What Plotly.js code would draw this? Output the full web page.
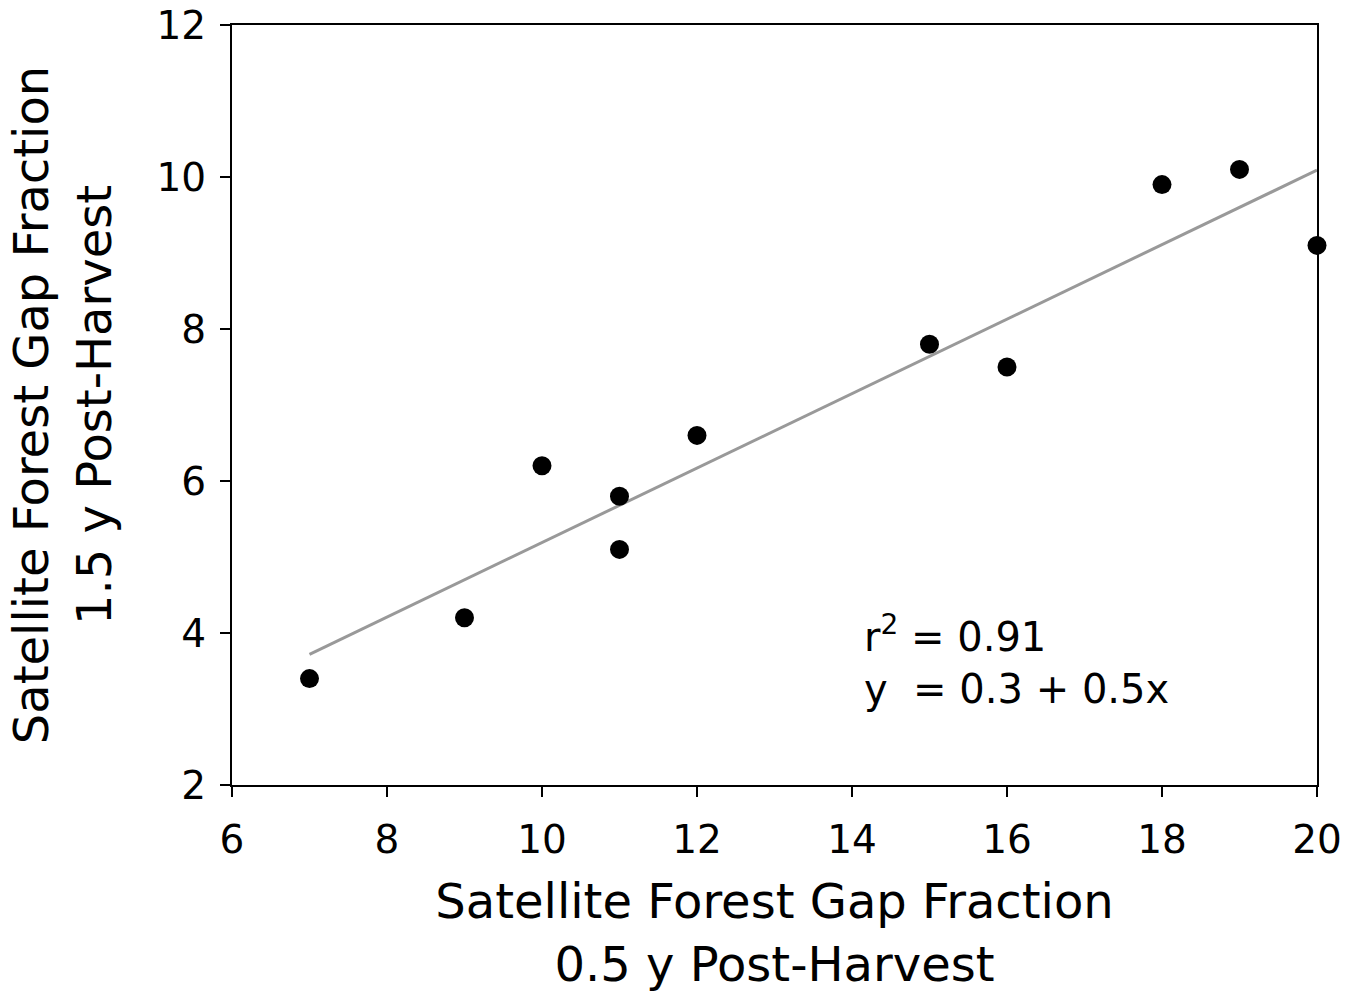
<!DOCTYPE html>
<html>
<head>
<meta charset="utf-8">
<script src="https://cdn.plot.ly/plotly-3.0.1.min.js"></script>
<style>html,body{margin:0;padding:0;background:#fff;}#chart{width:1357px;height:997px;}</style>
</head>
<body>
<div id="chart"></div>
<script>
// Data
const gap05 = [7, 9, 10, 11, 11, 12, 15, 16, 18, 19, 20];
const gap15 = [3.4, 4.2, 6.2, 5.8, 5.1, 6.6, 7.8, 7.5, 9.9, 10.1, 9.1];
const fitX = [7, 20];
const fitY = [3.72, 10.09];
const xTicks = [6, 8, 10, 12, 14, 16, 18, 20];
const yTicks = [2, 4, 6, 8, 10, 12];
const statsText = "r<sup>2</sup> = 0.91<br>y&nbsp; = 0.3 + 0.5x";

const FONT = "DejaVu Sans, Liberation Sans, Arial, sans-serif";

const traces = [
  {
    x: fitX, y: fitY, type: "scatter", mode: "lines",
    line: {color: "#999999", width: 3},
    hoverinfo: "skip", showlegend: false, cliponaxis: false
  },
  {
    x: gap05, y: gap15, type: "scatter", mode: "markers",
    marker: {color: "#000000", size: 19},
    showlegend: false, cliponaxis: false
  }
];

const axisCommon = {
  showgrid: false, zeroline: false,
  showline: true, linecolor: "#000", linewidth: 2, mirror: true,
  ticks: "outside", ticklen: 10, tickwidth: 2, tickcolor: "#000",
  tickfont: {family: FONT, size: 39, color: "#000"}
};

const layout = {
  width: 1357, height: 997,
  paper_bgcolor: "#fff", plot_bgcolor: "#fff",
  margin: {l: 232, r: 40, t: 25, b: 212},
  font: {family: FONT, color: "#000"},
  xaxis: Object.assign({}, axisCommon, {
    range: [6, 20], tickvals: xTicks, ticktext: xTicks.map(String),
    ticklabelstandoff: 9,
    title: {text: "Satellite Forest Gap Fraction<br>0.5 y Post-Harvest",
            font: {family: FONT, size: 48, color: "#000"}, standoff: 24}
  }),
  yaxis: Object.assign({}, axisCommon, {
    range: [2, 12], tickvals: yTicks, ticktext: yTicks.map(String),
    ticklabelstandoff: 6,
    title: {text: "Satellite Forest Gap Fraction<br>1.5 y Post-Harvest",
            font: {family: FONT, size: 48, color: "#000"}, standoff: 30}
  }),
  annotations: [{
    x: 14.13, y: 4.36, xref: "x", yref: "y",
    xanchor: "left", yanchor: "top", align: "left",
    text: statsText, showarrow: false,
    font: {family: FONT, size: 40, color: "#000"}
  }]
};

Plotly.newPlot("chart", traces, layout, {displayModeBar: false, staticPlot: true});
</script>
</body>
</html>
